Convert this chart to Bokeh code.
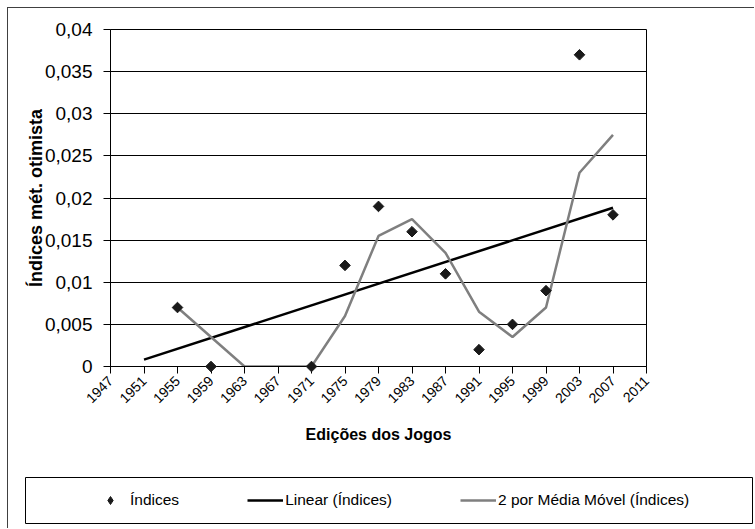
import numpy as np
from math import pi
from bokeh.plotting import figure
from bokeh.models import (Range1d, FixedTicker, CustomJSTickFormatter, Legend,
                          LegendItem)
from bokeh.layouts import column
from bokeh.embed import file_html
from bokeh.resources import INLINE

# ---- data ----
editions = [1951, 1955, 1959, 1963, 1967, 1971, 1975, 1979, 1983, 1987,
            1991, 1995, 1999, 2003, 2007]
indices = [None, 0.007, 0.0, None, None, 0.0, 0.012, 0.019, 0.016, 0.011,
           0.002, 0.005, 0.009, 0.037, 0.018]
ma_years = [1955, 1959, 1963, 1967, 1971, 1975, 1979, 1983, 1987, 1991,
            1995, 1999, 2003, 2007]
ma_values = [0.007, 0.0035, 0.0, 0.0, 0.0, 0.006, 0.0155, 0.0175, 0.0135,
             0.0065, 0.0035, 0.007, 0.023, 0.0275]
x_ticks = [1947, 1951, 1955, 1959, 1963, 1967, 1971, 1975, 1979, 1983,
           1987, 1991, 1995, 1999, 2003, 2007, 2011]
y_ticks = [0, 0.005, 0.01, 0.015, 0.02, 0.025, 0.03, 0.035, 0.04]

pts_x = [e for e, v in zip(editions, indices) if v is not None]
pts_y = [v for v in indices if v is not None]
slope, intercept = np.polyfit(pts_x, pts_y, 1)
trend_x = [editions[0], editions[-1]]
trend_y = [slope * x + intercept for x in trend_x]

FONT = "Liberation Sans"

p = figure(width=746, height=439, x_range=Range1d(1947, 2011),
           y_range=Range1d(0, 0.04), output_backend="svg",
           toolbar_location=None, min_border_left=102, min_border_right=108,
           min_border_top=21, min_border_bottom=81, frame_align=False)
p.outline_line_color = "black"
p.outline_line_width = 1
p.xgrid.visible = False
p.ygrid.grid_line_color = "black"
p.ygrid.grid_line_width = 1
p.xaxis.ticker = FixedTicker(ticks=x_ticks)
p.yaxis.ticker = FixedTicker(ticks=y_ticks)
p.yaxis.formatter = CustomJSTickFormatter(code="""
var s = tick.toFixed(3).replace(/0+$/, '').replace(/\\.$/, '');
return s.replace('.', ',');
""")
for ax in (p.xaxis, p.yaxis):
    ax.axis_line_color = "black"
    ax.major_tick_line_color = "black"
    ax.minor_tick_line_color = None
    ax.major_tick_out = 7
    ax.major_tick_in = 0
    ax.major_label_text_font = FONT
    ax.major_label_text_color = "black"
    ax.axis_label_text_font = FONT
    ax.axis_label_text_font_style = "bold"
    ax.axis_label_text_color = "black"
p.yaxis.major_label_text_font_size = "19px"
p.yaxis.major_label_standoff = 11
p.yaxis.axis_label = "Índices mét. otimista"
p.yaxis.axis_label_text_font_size = "18px"
p.yaxis.axis_label_standoff = -4
p.xaxis.major_label_text_font_size = "14px"
p.xaxis.major_label_orientation = pi / 4
p.xaxis.major_label_standoff = 5
p.xaxis.axis_label = "Edições dos Jogos"
p.xaxis.axis_label_text_font_size = "16px"
p.xaxis.axis_label_standoff = 15

p.line(x=trend_x, y=trend_y, line_color="black", line_width=2.5)
p.line(x=ma_years, y=ma_values, line_color="#7f7f7f", line_width=2.5)
p.scatter(x=pts_x, y=pts_y, marker="square", angle=pi / 4, size=7.5,
          fill_color="#1a1a1a", line_color="#1a1a1a", level="overlay")

# ---- legend panel (its frame is the legend box) ----
# the proxy renderers reuse the series data, which lies outside this panel's
# 0..1 ranges, so only their legend glyphs are visible
lg = figure(width=746, height=81, x_range=Range1d(0, 1), y_range=Range1d(0, 1),
            output_backend="svg", toolbar_location=None,
            min_border_left=17, min_border_right=2, min_border_top=30,
            min_border_bottom=5, frame_align=False)
lg.axis.visible = False
lg.grid.visible = False
lg.outline_line_color = "black"
lg.outline_line_width = 1
r1 = lg.scatter(x=pts_x, y=pts_y, marker="diamond", size=10,
                fill_color="#1a1a1a", line_color="#1a1a1a")
r2 = lg.line(x=trend_x, y=trend_y, line_color="black", line_width=2.5)
r3 = lg.line(x=ma_years, y=ma_values, line_color="#7f7f7f", line_width=2.5)
legend = Legend(items=[
    LegendItem(label="Índices", renderers=[r1]),
    LegendItem(label="Linear (Índices)", renderers=[r2]),
    LegendItem(label="2 por Média Móvel (Índices)", renderers=[r3]),
], orientation="horizontal", location=(67, 13))
legend.border_line_color = None
legend.background_fill_alpha = 0
legend.padding = 0
legend.margin = 0
legend.spacing = 68
legend.glyph_width = 36
legend.glyph_height = 20
legend.label_height = 20
legend.label_standoff = 2
legend.label_text_font = FONT
legend.label_text_font_size = "15.5px"
legend.label_text_color = "black"
lg.add_layout(legend)

layout = column(p, lg, spacing=0)
layout.styles = {"margin-left": "7px", "margin-top": "7px",
                 "border-top": "1px solid #404040",
                 "border-left": "1px solid #404040"}

open("out.html", "w").write(file_html(layout, INLINE))
